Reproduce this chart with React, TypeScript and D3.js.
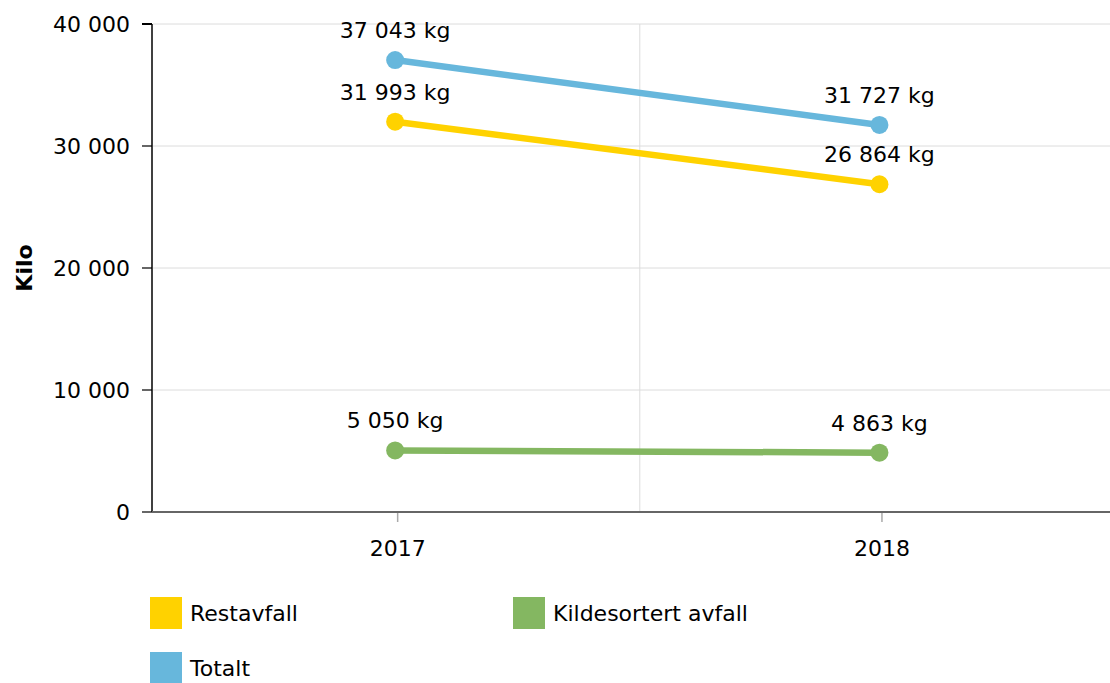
import React from "react";
import * as d3 from "d3";

const categories = ["2017", "2018"];
const seriesNames = ["Restavfall", "Kildesortert avfall", "Totalt"];
const restavfall = [31993, 26864];
const kildesortert = [5050, 4863];
const totalt = [37043, 31727];
const yTicks = [0, 10000, 20000, 30000, 40000];
const colors = ["#ffd200", "#84b761", "#67b7dc"];

const W = 1110;
const H = 683;
const left = 153;
const top = 24;
const bottom = 512;
const FS = 22;
const markShift = -2.5;

export default function App() {
  const x = d3.scaleBand<string>().domain(categories).range([155.5, 155.5 + 968.6]).padding(0);
  const y = d3.scaleLinear().domain([0, 40000]).range([bottom, top]);
  const cx = (c: string) => (x(c) as number) + x.bandwidth() / 2;
  const px = (c: string) => cx(c) + markShift;
  const fmt = (v: number) => d3.format(",")(v).replace(/,/g, " ");
  const series = [
    { name: seriesNames[2], values: totalt, color: colors[2] },
    { name: seriesNames[0], values: restavfall, color: colors[0] },
    { name: seriesNames[1], values: kildesortert, color: colors[1] },
  ];
  const line = d3
    .line<number>()
    .x((_, i) => px(categories[i]))
    .y((d) => y(d));
  const font = "Verdana, 'DejaVu Sans', sans-serif";
  return (
    <svg
      width={W}
      height={H}
      style={{ position: "absolute", left: 0, top: 0, background: "#fff" }}
      fontFamily={font}
    >
      {/* grid */}
      {yTicks.map((t) => (
        <line key={"g" + t} x1={left} x2={W} y1={y(t)} y2={y(t)} stroke="#dcdcdc" strokeWidth={1} />
      ))}
      <line
        x1={(x(categories[1]) as number)}
        x2={(x(categories[1]) as number)}
        y1={top}
        y2={bottom}
        stroke="#dcdcdc"
        strokeWidth={1}
      />
      {/* y axis */}
      <line x1={left - 1} x2={left - 1} y1={top} y2={bottom} stroke="#000" strokeWidth={1.5} />
      {yTicks.map((t) => (
        <g key={"t" + t}>
          <line x1={left - 11} x2={left - 1} y1={y(t)} y2={y(t)} stroke="#000" strokeWidth={t === 40000 ? 2 : 1.2} />
          <text x={left - 23} y={y(t)} dy="0.35em" textAnchor="end" fontSize={FS} fill="#000">
            {fmt(t)}
          </text>
        </g>
      ))}
      <text
        transform={`translate(32, ${(top + bottom) / 2}) rotate(-90)`}
        textAnchor="middle"
        fontSize={FS}
        fontWeight="bold"
        fill="#000"
      >
        Kilo
      </text>
      {/* x axis */}
      <line x1={left - 1} x2={W} y1={bottom} y2={bottom} stroke="#666" strokeWidth={2} />
      {categories.map((c) => (
        <g key={c}>
          <line x1={cx(c)} x2={cx(c)} y1={bottom + 1} y2={bottom + 10} stroke="#aaa" strokeWidth={1.5} />
          <text x={cx(c)} y={bottom + 44} textAnchor="middle" fontSize={FS} fill="#000">
            {c}
          </text>
        </g>
      ))}
      {/* series */}
      {series.map((s) => (
        <g key={s.name}>
          <path d={line(s.values) || ""} fill="none" stroke={s.color} strokeWidth={6.5} />
          {s.values.map((v, i) => (
            <circle key={i} cx={px(categories[i])} cy={y(v)} r={9} fill={s.color} />
          ))}
          {s.values.map((v, i) => (
            <text
              key={"l" + i}
              x={px(categories[i])}
              y={y(v) - 22}
              textAnchor="middle"
              fontSize={FS}
              fill="#000"
            >
              {fmt(v) + " kg"}
            </text>
          ))}
        </g>
      ))}
      {/* legend */}
      {[
        { name: seriesNames[0], color: colors[0], lx: 150, ly: 597 },
        { name: seriesNames[1], color: colors[1], lx: 513, ly: 597 },
        { name: seriesNames[2], color: colors[2], lx: 150, ly: 652 },
      ].map((l) => (
        <g key={l.name}>
          <rect x={l.lx} y={l.ly} width={32} height={32} fill={l.color} />
          <text x={l.lx + 40} y={l.ly + 16} dy="0.35em" fontSize={FS} fill="#000">
            {l.name}
          </text>
        </g>
      ))}
    </svg>
  );
}
